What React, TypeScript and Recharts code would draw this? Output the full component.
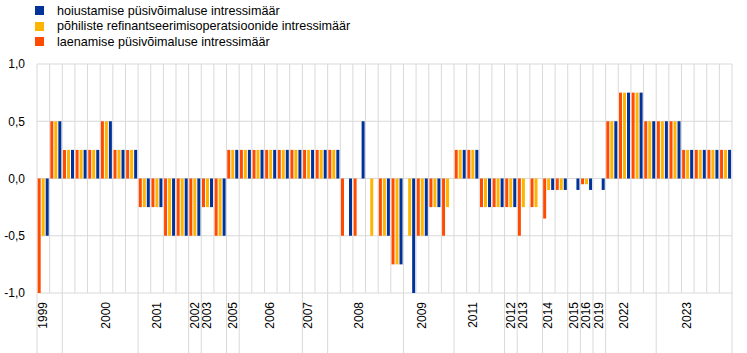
import React from "react";
import { Bar, BarChart, CartesianGrid, Legend, XAxis, YAxis } from "recharts";

// ECB policy rate decisions (dates of change)
const decisions = [
  "1999-04-09", "1999-11-05",
  "2000-02-04", "2000-03-17", "2000-04-28", "2000-06-09", "2000-09-01", "2000-10-06",
  "2001-05-11", "2001-08-31", "2001-09-18", "2001-11-09",
  "2002-12-06",
  "2003-03-07", "2003-06-06",
  "2005-12-06",
  "2006-03-08", "2006-06-15", "2006-08-09", "2006-10-11", "2006-12-13",
  "2007-03-14", "2007-06-13",
  "2008-07-09", "2008-10-08", "2008-10-09", "2008-10-15", "2008-11-12", "2008-12-10",
  "2009-01-21", "2009-03-11", "2009-04-08", "2009-05-13",
  "2011-04-13", "2011-07-13", "2011-11-09", "2011-12-14",
  "2012-07-11",
  "2013-05-08", "2013-11-13",
  "2014-06-11", "2014-09-10",
  "2015-12-09",
  "2016-03-16",
  "2019-09-18",
  "2022-07-27", "2022-09-14", "2022-11-02", "2022-12-21",
  "2023-02-08", "2023-03-22", "2023-05-10", "2023-06-21", "2023-08-02", "2023-09-20",
];

const tickLabels = [
  "1999", "",
  "", "", "", "2000", "", "",
  "", "2001", "", "",
  "2002",
  "2003", "",
  "2005",
  "", "", "2006", "", "",
  "2007", "",
  "", "", "2008", "", "", "",
  "", "2009", "", "",
  "", "2011", "", "",
  "2012",
  "2013", "",
  "2014", "",
  "2015",
  "2016",
  "2019",
  "", "2022", "", "",
  "", "", "2023", "", "", "",
];

// change in percentage points
const depositRate = [
  -0.5, 0.5,
  0.25, 0.25, 0.25, 0.5, 0.25, 0.25,
  -0.25, -0.25, -0.5, -0.5,
  -0.5,
  -0.25, -0.5,
  0.25,
  0.25, 0.25, 0.25, 0.25, 0.25,
  0.25, 0.25,
  0.25, -0.5, 0.5, 0, -0.5, -0.75,
  -1.0, -0.5, -0.25, 0,
  0.25, 0.25, -0.25, -0.25,
  -0.25,
  0, 0,
  -0.1, -0.1,
  -0.1,
  -0.1,
  -0.1,
  0.5, 0.75, 0.75, 0.5,
  0.5, 0.5, 0.25, 0.25, 0.25, 0.25,
];

const mroRate = [
  -0.5, 0.5,
  0.25, 0.25, 0.25, 0.5, 0.25, 0.25,
  -0.25, -0.25, -0.5, -0.5,
  -0.5,
  -0.25, -0.5,
  0.25,
  0.25, 0.25, 0.25, 0.25, 0.25,
  0.25, 0.25,
  0.25, 0, 0, -0.5, -0.5, -0.75,
  -0.5, -0.5, -0.25, -0.25,
  0.25, 0.25, -0.25, -0.25,
  -0.25,
  -0.25, -0.25,
  -0.1, -0.1,
  0,
  -0.05,
  0,
  0.5, 0.75, 0.75, 0.5,
  0.5, 0.5, 0.25, 0.25, 0.25, 0.25,
];

const lendingRate = [
  -1.0, 0.5,
  0.25, 0.25, 0.25, 0.5, 0.25, 0.25,
  -0.25, -0.25, -0.5, -0.5,
  -0.5,
  -0.25, -0.5,
  0.25,
  0.25, 0.25, 0.25, 0.25, 0.25,
  0.25, 0.25,
  0.25, -0.5, -0.5, 0, -0.5, -0.75,
  0, -0.5, -0.25, -0.5,
  0.25, 0.25, -0.25, -0.25,
  -0.25,
  -0.5, -0.25,
  -0.35, -0.1,
  0,
  -0.05,
  0,
  0.5, 0.75, 0.75, 0.5,
  0.5, 0.5, 0.25, 0.25, 0.25, 0.25,
];

const yTicks = [-1, -0.5, 0, 0.5, 1];

const seriesNames = {
  deposit: "hoiustamise püsivõimaluse intressimäär",
  mro: "põhiliste refinantseerimisoperatsioonide intressimäär",
  lending: "laenamise püsivõimaluse intressimäär",
};
const seriesColors = { deposit: "#003299", mro: "#FFB400", lending: "#FF4B00" };
const legendOrder: (keyof typeof seriesNames)[] = ["deposit", "mro", "lending"];

const data = decisions.map((date, i) => ({
  date,
  deposit: depositRate[i],
  mro: mroRate[i],
  lending: lendingRate[i],
}));

const GRID = "#d9d9d9";
const FONT = "'Liberation Sans', Arial, sans-serif";

const yearOf = (i: number) => decisions[i].slice(0, 4);

function YearTick(props: any) {
  const { x, y, payload, index } = props;
  const i = typeof index === "number" ? index : payload.index;
  const half = payload && payload.offset ? payload.offset : 0;
  const newYear = i === 0 || yearOf(i) !== yearOf(i - 1);
  const last = i === decisions.length - 1;
  const label = tickLabels[i];
  const ty = y + 9;
  return (
    <g>
      {newYear && <line x1={x - half} x2={x - half} y1={y} y2={y + 60} stroke={GRID} />}
      {last && <line x1={x + half} x2={x + half} y1={y} y2={y + 60} stroke={GRID} />}
      {label && (
        <text
          x={x - 0.5}
          y={ty}
          dy="0.35em"
          transform={`rotate(-90, ${x - 0.5}, ${ty})`}
          textAnchor="end"
          fontSize={12}
          fill="#000"
        >
          {label}
        </text>
      )}
    </g>
  );
}

function LegendBox() {
  return (
    <div style={{ paddingTop: 3, fontSize: 12.6, color: "#000", fontFamily: FONT }}>
      {legendOrder.map((k) => (
        <div key={k} style={{ display: "flex", alignItems: "center", height: 15.5, whiteSpace: "nowrap" }}>
          <span style={{ display: "inline-block", width: 9, height: 9, marginLeft: 35, marginRight: 13, background: seriesColors[k] }} />
          <span>{seriesNames[k]}</span>
        </div>
      ))}
    </div>
  );
}

export default function App() {
  const n = decisions.length;
  return (
    <div style={{ position: "absolute", left: 0, top: 0, fontFamily: FONT, background: "#fff" }}>
      <BarChart
        width={747}
        height={353}
        data={data}
        margin={{ top: 64, right: 15, bottom: 0, left: 0 }}
        barCategoryGap={0.7}
        barGap={1}
      >
        <CartesianGrid
          stroke={GRID}
          verticalCoordinatesGenerator={({ offset }: any) =>
            Array.from({ length: n + 1 }, (_, k) => offset.left + (k * offset.width) / n)
          }
        />
        <XAxis
          dataKey="date"
          interval={0}
          height={60}
          axisLine={false}
          tickLine={false}
          tickSize={0}
          tickMargin={0}
          tick={<YearTick />}
        />
        <YAxis
          width={37}
          domain={[-1, 1]}
          ticks={yTicks}
          axisLine={false}
          tickLine={false}
          tickSize={0}
          tickMargin={12}
          tick={{ fontSize: 12, fill: "#000" }}
          tickFormatter={(v: number) => v.toFixed(1).replace(".", ",")}
        />
        <Legend
          layout="vertical"
          align="center"
          verticalAlign="middle"
          wrapperStyle={{ top: 0, left: 0, width: 400 }}
          content={<LegendBox />}
        />
        <Bar dataKey="lending" name={seriesNames.lending} fill={seriesColors.lending} isAnimationActive={false} />
        <Bar dataKey="mro" name={seriesNames.mro} fill={seriesColors.mro} isAnimationActive={false} />
        <Bar dataKey="deposit" name={seriesNames.deposit} fill={seriesColors.deposit} isAnimationActive={false} />
      </BarChart>
    </div>
  );
}
